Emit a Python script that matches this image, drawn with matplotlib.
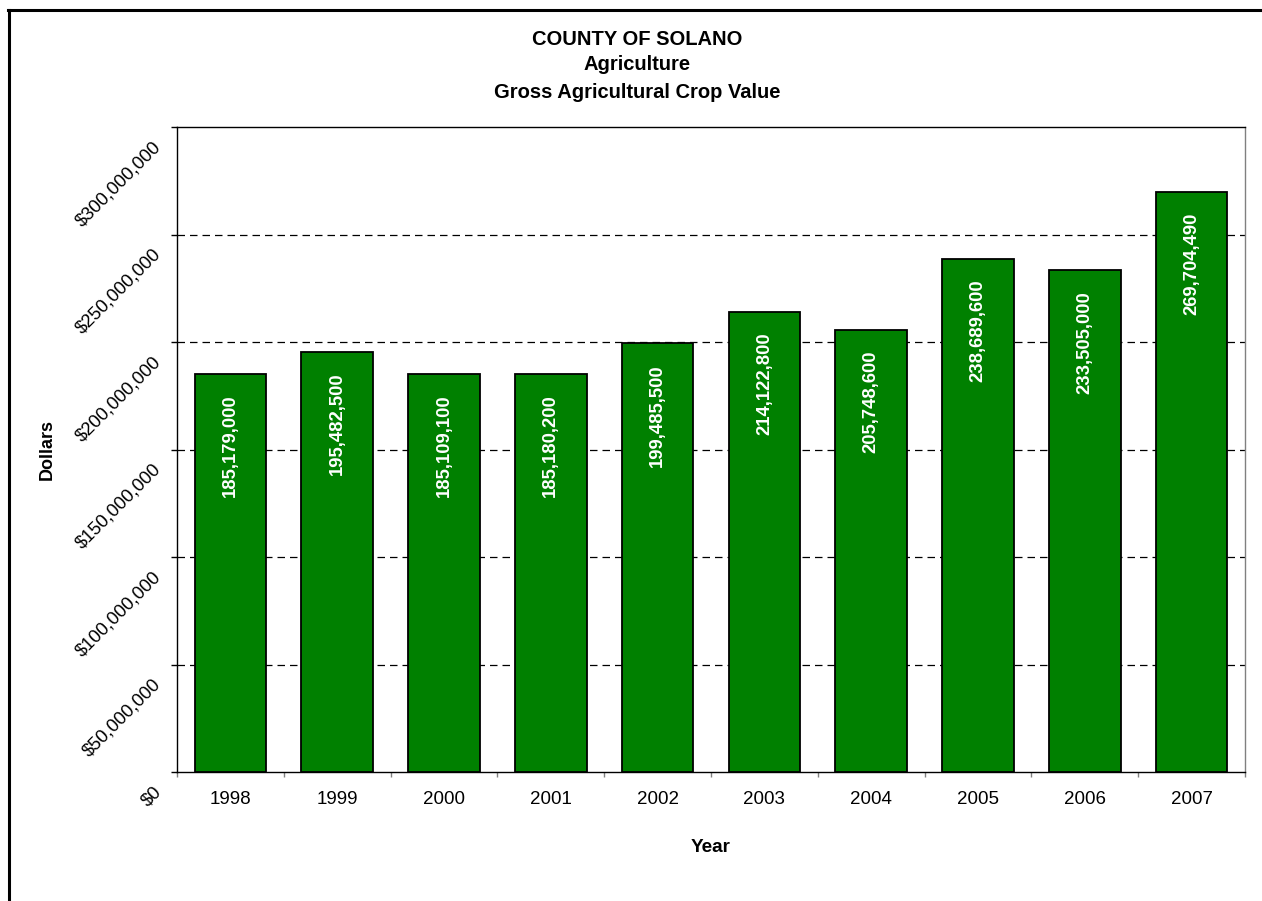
import matplotlib
matplotlib.use("Agg")
import matplotlib.pyplot as plt
from matplotlib.ticker import FuncFormatter, FixedLocator
from matplotlib.transforms import ScaledTranslation
from matplotlib.lines import Line2D

years = ["1998", "1999", "2000", "2001", "2002", "2003", "2004", "2005", "2006", "2007"]
values = [185179000, 195482500, 185109100, 185180200, 199485500,
          214122800, 205748600, 238689600, 233505000, 269704490]
y_ticks = [0, 50000000, 100000000, 150000000, 200000000, 250000000, 300000000]
title_lines = ["COUNTY OF SOLANO", "Agriculture", "Gross Agricultural Crop Value"]

plt.rcParams['font.family'] = ['Liberation Sans', 'DejaVu Sans']

W, H = 1262, 901
fig = plt.figure(figsize=(W / 100, H / 100), dpi=100)
ax = fig.add_axes([177 / W, 1 - 772 / H, (1245 - 177) / W, (772 - 127) / H])

x = list(range(len(years)))
bars = ax.bar(x, values, width=0.67, color="#008000", edgecolor="black", linewidth=1.3, zorder=3)

ax.set_xlim(-0.5, len(years) - 0.5)
ax.set_ylim(0, 300000000)

# grid lines (dashed), excluding top
for v in y_ticks[1:-1]:
    ax.axhline(v, color="black", linestyle=(0, (6, 4)), linewidth=0.9, zorder=1)

# value labels
for xi, v in zip(x, values):
    ax.annotate(f"{v:,}", xy=(xi, v), xytext=(0, -15), textcoords="offset points",
                rotation=90, ha="center", va="top", color="white",
                fontsize=13.3, fontweight="bold", zorder=4)

# y axis
ax.set_yticks(y_ticks)
ax.yaxis.set_major_formatter(FuncFormatter(lambda v, p: f"${v:,.0f}"))
ax.tick_params(axis="y", direction="out", length=6 * 0.72, width=1, color="black",
               pad=9.0, labelsize=13.2)
offset = ScaledTranslation(0, -0.175, fig.dpi_scale_trans)
for lbl in ax.get_yticklabels():
    lbl.set_rotation(45)
    lbl.set_rotation_mode("anchor")
    lbl.set_ha("right")
    lbl.set_va("center")
    lbl.set_transform(lbl.get_transform() + offset)

# x axis: ticks at boundaries, labels at centers
ax.xaxis.set_major_locator(FixedLocator([i - 0.5 for i in range(len(years) + 1)]))
ax.xaxis.set_major_formatter(FuncFormatter(lambda v, p: ""))
ax.xaxis.set_minor_locator(FixedLocator(x))
ax.set_xticklabels(years, minor=True)
ax.tick_params(axis="x", which="major", direction="out", length=5 * 0.72, width=1, color="#808080")
ax.tick_params(axis="x", which="minor", length=0, pad=13.5, labelsize=13.5)

for s in ["left", "bottom", "top"]:
    ax.spines[s].set_color("black")
    ax.spines[s].set_linewidth(1.0)
ax.spines["right"].set_color("#808080")
ax.spines["right"].set_linewidth(1.0)

# axis titles
fig.text(47 / W, 1 - 449 / H, "Dollars", rotation=90, ha="center", va="center",
         fontsize=13, fontweight="bold")
fig.text(711 / W, 1 - 847 / H, "Year", ha="center", va="center",
         fontsize=13.6, fontweight="bold")

# chart title (baselines)
for t, yy in zip(title_lines, [45, 70, 98]):
    fig.text(637 / W, 1 - yy / H, t, ha="center", va="baseline", fontsize=14.5, fontweight="bold")

# figure border (left and top)
fig.add_artist(Line2D([9 / W, 9 / W], [0, 1 - 10 / H], transform=fig.transFigure,
                      color="black", linewidth=2.2))
fig.add_artist(Line2D([8 / W, 1], [1 - 10 / H, 1 - 10 / H], transform=fig.transFigure,
                      color="black", linewidth=2.2))

fig.savefig("out.png", dpi=100, facecolor="white")
